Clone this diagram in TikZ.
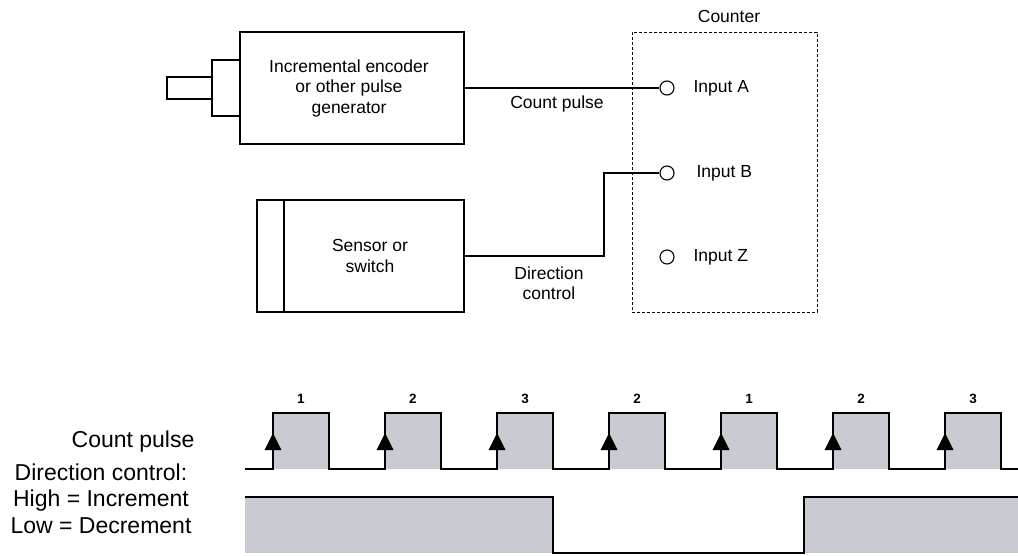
\documentclass[tikz,border=0pt]{standalone}
\usepackage{fontspec}
\setmainfont{Liberation Sans}
\definecolor{pulsegray}{RGB}{200,203,210}
\begin{document}
\begin{tikzpicture}[x=1pt,y=-1pt,line width=1.2pt,
  txt/.style={font=\fontsize{17.5}{20.5}\selectfont,inner sep=0pt,align=center},
  bigtxt/.style={font=\fontsize{23}{26.5}\selectfont,inner sep=0pt,align=center},
  numtxt/.style={font=\fontsize{13.5}{15}\selectfont\bfseries,inner sep=0pt},
  blockbox/.style={draw,minimum width=224pt,minimum height=112pt,inner sep=0pt},
  inport/.style={draw,circle,minimum size=14pt,inner sep=0pt,line width=1.1pt},
  wire/.style={line width=1.2pt},
  sig/.style={line width=1.3pt,line join=miter},
  edgetip/.style={fill=black,draw=none}]
\useasboundingbox (0,0) rectangle (1018,555);

% encoder
\node[blockbox] (enc) at (352,88) {};
\node[txt] (enct) at (349,88) {Incremental encoder\\or other pulse\\generator};
\draw (240,60) -- (212,60) -- (212,116) -- (240,116);
\draw (212,77) -- (167,77) -- (167,99) -- (212,99);

% sensor
\node[draw,minimum width=207pt,minimum height=112pt,inner sep=0pt] (sen) at (360.5,256) {};
\draw (284,200) -- (284,312);
\node[txt] (sent) at (370,256) {Sensor or\\switch};

% counter
\node[draw,dash pattern=on 3pt off 2pt,line width=1pt,minimum width=185pt,minimum height=280pt,inner sep=0pt] (cnt) at (724.5,172) {};
\node[txt] (cntl) at (729,16) {Counter};
\node[inport] (inA) at (667,88) {};
\node[inport] (inB) at (667,173) {};
\node[inport] (inZ) at (667,257) {};
\node[txt,anchor=west] (lA) at (693,88) {Input A};
\node[txt,anchor=west] (lB) at (696,173) {Input B};
\node[txt,anchor=west] (lZ) at (693,257) {Input Z};

% connectors
\draw[wire] (enc.east) -- (inA.west);
\coordinate (bend1) at (604,256);
\coordinate (bend2) at (604,173);
\draw[wire] (sen.east) -- (bend1) -- (bend2) -- (inB.west);
\node[txt] (cpl) at (557,104) {Count pulse};
\node[txt] (dcl) at (549,283) {Direction\\control};

% timing labels
\node[bigtxt,anchor=east] (tcp) at (195,442) {Count pulse};
\node[bigtxt] (tdc) at (101,498.5) {Direction control:\\High = Increment\\Low = Decrement};

% count pulse fills and numbers
\foreach \k/\n in {0/1,1/2,2/3,3/2,4/1,5/2,6/3}{
  \pgfmathsetmacro{\r}{273+112*\k}
  \fill[pulsegray] (\r,413) rectangle ({\r+56},469);
  \node[numtxt] at ({\r+28},399) {\n};
}
\draw[sig] (245,469)
  \foreach \k in {0,...,6}{ -- ({273+112*\k},469) -- ({273+112*\k},413) -- ({329+112*\k},413) -- ({329+112*\k},469) }
  -- (1018,469);
\foreach \k in {0,...,6}{
  \fill[edgetip] ({273+112*\k},433) -- ({264.5+112*\k},450) -- ({281.5+112*\k},450) -- cycle;
}

% direction control
\fill[pulsegray] (245,497) rectangle (553,553);
\fill[pulsegray] (804,497) rectangle (1018,553);
\draw[sig] (245,497) -- (553,497) -- (553,553) -- (804,553) -- (804,497) -- (1018,497);
\end{tikzpicture}
\end{document}
